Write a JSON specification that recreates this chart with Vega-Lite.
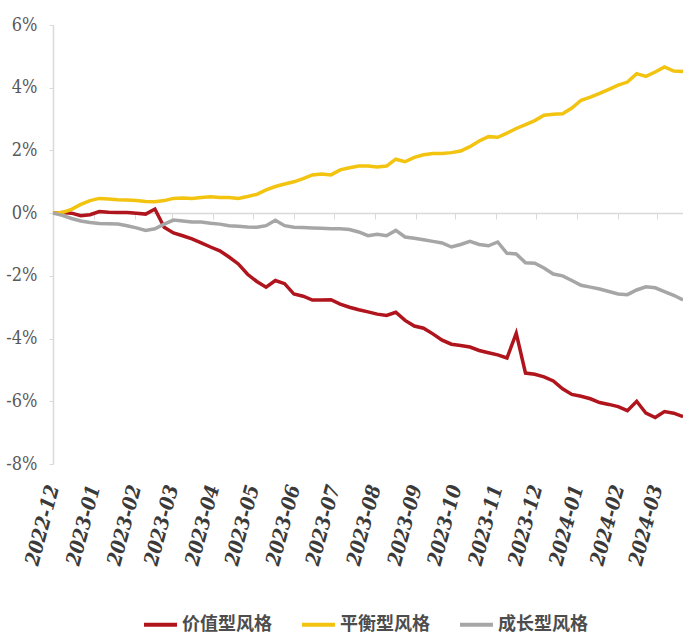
{
  "$schema": "https://vega.github.io/schema/vega-lite/v6.json",
  "width": 630,
  "height": 439,
  "autosize": "none",
  "padding": {"left": 53, "top": 25, "right": 0, "bottom": 170},
  "background": "white",
  "config": {"view": {"stroke": null}},
  "data": {"values": [
    {"date": "2022-12-01", "价值型风格": 0, "平衡型风格": 0, "成长型风格": 0},
    {"date": "2022-12-08", "价值型风格": 0.02, "平衡型风格": 0.02, "成长型风格": -0.07},
    {"date": "2022-12-15", "价值型风格": 0.0, "平衡型风格": 0.12, "成长型风格": -0.17},
    {"date": "2022-12-22", "价值型风格": -0.08, "平衡型风格": 0.28, "成长型风格": -0.25},
    {"date": "2022-12-29", "价值型风格": -0.05, "平衡型风格": 0.4, "成长型风格": -0.3},
    {"date": "2023-01-05", "价值型风格": 0.05, "平衡型风格": 0.47, "成长型风格": -0.33},
    {"date": "2023-01-12", "价值型风格": 0.03, "平衡型风格": 0.45, "成长型风格": -0.34},
    {"date": "2023-01-19", "价值型风格": 0.02, "平衡型风格": 0.43, "成长型风格": -0.35},
    {"date": "2023-01-26", "价值型风格": 0.02, "平衡型风格": 0.42, "成长型风格": -0.4},
    {"date": "2023-02-02", "价值型风格": 0.0, "平衡型风格": 0.4, "成长型风格": -0.47},
    {"date": "2023-02-09", "价值型风格": -0.03, "平衡型风格": 0.37, "成长型风格": -0.55},
    {"date": "2023-02-16", "价值型风格": 0.13, "平衡型风格": 0.36, "成长型风格": -0.5},
    {"date": "2023-02-23", "价值型风格": -0.45, "平衡型风格": 0.4, "成长型风格": -0.35},
    {"date": "2023-03-02", "价值型风格": -0.63, "平衡型风格": 0.47, "成长型风格": -0.22},
    {"date": "2023-03-09", "价值型风格": -0.72, "平衡型风格": 0.48, "成长型风格": -0.25},
    {"date": "2023-03-16", "价值型风格": -0.82, "平衡型风格": 0.47, "成长型风格": -0.28},
    {"date": "2023-03-23", "价值型风格": -0.95, "平衡型风格": 0.5, "成长型风格": -0.28},
    {"date": "2023-03-30", "价值型风格": -1.08, "平衡型风格": 0.52, "成长型风格": -0.32},
    {"date": "2023-04-06", "价值型风格": -1.2, "平衡型风格": 0.5, "成长型风格": -0.35},
    {"date": "2023-04-13", "价值型风格": -1.4, "平衡型风格": 0.5, "成长型风格": -0.4},
    {"date": "2023-04-20", "价值型风格": -1.62, "平衡型风格": 0.47, "成长型风格": -0.42},
    {"date": "2023-04-27", "价值型风格": -1.95, "平衡型风格": 0.53, "成长型风格": -0.44},
    {"date": "2023-05-04", "价值型风格": -2.18, "平衡型风格": 0.6, "成长型风格": -0.45},
    {"date": "2023-05-11", "价值型风格": -2.36, "平衡型风格": 0.74, "成长型风格": -0.4},
    {"date": "2023-05-18", "价值型风格": -2.15, "平衡型风格": 0.85, "成长型风格": -0.23},
    {"date": "2023-05-25", "价值型风格": -2.25, "平衡型风格": 0.93, "成长型风格": -0.4},
    {"date": "2023-06-01", "价值型风格": -2.58, "平衡型风格": 1.0, "成长型风格": -0.45},
    {"date": "2023-06-08", "价值型风格": -2.65, "平衡型风格": 1.1, "成长型风格": -0.46},
    {"date": "2023-06-15", "价值型风格": -2.77, "平衡型风格": 1.22, "成长型风格": -0.47},
    {"date": "2023-06-22", "价值型风格": -2.77, "平衡型风格": 1.25, "成长型风格": -0.48},
    {"date": "2023-06-29", "价值型风格": -2.76, "平衡型风格": 1.22, "成长型风格": -0.5},
    {"date": "2023-07-06", "价值型风格": -2.9, "平衡型风格": 1.38, "成长型风格": -0.5},
    {"date": "2023-07-13", "价值型风格": -3.0, "平衡型风格": 1.45, "成长型风格": -0.52},
    {"date": "2023-07-20", "价值型风格": -3.08, "平衡型风格": 1.5, "成长型风格": -0.6},
    {"date": "2023-07-27", "价值型风格": -3.15, "平衡型风格": 1.5, "成长型风格": -0.72},
    {"date": "2023-08-03", "价值型风格": -3.22, "平衡型风格": 1.47, "成长型风格": -0.67},
    {"date": "2023-08-10", "价值型风格": -3.26, "平衡型风格": 1.5, "成长型风格": -0.72},
    {"date": "2023-08-17", "价值型风格": -3.16, "平衡型风格": 1.72, "成长型风格": -0.55},
    {"date": "2023-08-24", "价值型风格": -3.42, "平衡型风格": 1.64, "成长型风格": -0.76},
    {"date": "2023-08-31", "价值型风格": -3.6, "平衡型风格": 1.78, "成长型风格": -0.8},
    {"date": "2023-09-07", "价值型风格": -3.67, "平衡型风格": 1.86, "成长型风格": -0.85},
    {"date": "2023-09-14", "价值型风格": -3.85, "平衡型风格": 1.9, "成长型风格": -0.9},
    {"date": "2023-09-21", "价值型风格": -4.05, "平衡型风格": 1.9, "成长型风格": -0.95},
    {"date": "2023-09-28", "价值型风格": -4.18, "平衡型风格": 1.93, "成长型风格": -1.08},
    {"date": "2023-10-05", "价值型风格": -4.22, "平衡型风格": 1.98, "成长型风格": -1.0},
    {"date": "2023-10-12", "价值型风格": -4.27, "平衡型风格": 2.12, "成长型风格": -0.9},
    {"date": "2023-10-19", "价值型风格": -4.38, "平衡型风格": 2.3, "成长型风格": -1.0},
    {"date": "2023-10-26", "价值型风格": -4.45, "平衡型风格": 2.44, "成长型风格": -1.04},
    {"date": "2023-11-02", "价值型风格": -4.52, "平衡型风格": 2.42, "成长型风格": -0.92},
    {"date": "2023-11-09", "价值型风格": -4.62, "平衡型风格": 2.55, "成长型风格": -1.28},
    {"date": "2023-11-16", "价值型风格": -3.83, "平衡型风格": 2.7, "成长型风格": -1.3},
    {"date": "2023-11-23", "价值型风格": -5.1, "平衡型风格": 2.82, "成长型风格": -1.58},
    {"date": "2023-11-30", "价值型风格": -5.14, "平衡型风格": 2.95, "成长型风格": -1.6},
    {"date": "2023-12-07", "价值型风格": -5.22, "平衡型风格": 3.12, "成长型风格": -1.75},
    {"date": "2023-12-14", "价值型风格": -5.35, "平衡型风格": 3.15, "成长型风格": -1.94},
    {"date": "2023-12-21", "价值型风格": -5.6, "平衡型风格": 3.17, "成长型风格": -2.0},
    {"date": "2023-12-28", "价值型风格": -5.78, "平衡型风格": 3.35, "成长型风格": -2.15},
    {"date": "2024-01-04", "价值型风格": -5.84, "平衡型风格": 3.6, "成长型风格": -2.3},
    {"date": "2024-01-11", "价值型风格": -5.92, "平衡型风格": 3.7, "成长型风格": -2.36},
    {"date": "2024-01-18", "价值型风格": -6.04, "平衡型风格": 3.82, "成长型风格": -2.42},
    {"date": "2024-01-25", "价值型风格": -6.1, "平衡型风格": 3.95, "成长型风格": -2.5},
    {"date": "2024-02-01", "价值型风格": -6.17, "平衡型风格": 4.08, "成长型风格": -2.58},
    {"date": "2024-02-08", "价值型风格": -6.3, "平衡型风格": 4.18, "成长型风格": -2.6},
    {"date": "2024-02-15", "价值型风格": -6.0, "平衡型风格": 4.45, "成长型风格": -2.45},
    {"date": "2024-02-22", "价值型风格": -6.38, "平衡型风格": 4.36, "成长型风格": -2.35},
    {"date": "2024-02-29", "价值型风格": -6.52, "平衡型风格": 4.5, "成长型风格": -2.38},
    {"date": "2024-03-07", "价值型风格": -6.33, "平衡型风格": 4.66, "成长型风格": -2.5},
    {"date": "2024-03-14", "价值型风格": -6.38, "平衡型风格": 4.53, "成长型风格": -2.62},
    {"date": "2024-03-21", "价值型风格": -6.49, "平衡型风格": 4.52, "成长型风格": -2.77}
  ]},
  "transform": [
    {"fold": ["价值型风格", "平衡型风格", "成长型风格"], "as": ["style", "value"]}
  ],
  "mark": {"type": "line", "strokeWidth": 3.5, "interpolate": "linear"},
  "encoding": {
    "x": {
      "field": "date",
      "type": "temporal",
      "scale": {"type": "utc", "nice": false},
      "axis": {
        "title": null,
        "orient": "bottom",
        "offset": -251,
        "format": "%Y-%m",
        "tickCount": {"interval": "month", "step": 1},
        "grid": false,
        "domain": true,
        "domainColor": "#d9d9d9",
        "domainWidth": 1.5,
        "ticks": true,
        "tickColor": "#d9d9d9",
        "tickSize": 6,
        "tickWidth": 1,
        "labelPadding": 266,
        "labelAngle": -75,
        "labelFont": "DejaVu Serif Condensed, Liberation Serif, DejaVu Serif, serif",
        "labelFontSize": 20,
        "labelFontWeight": "bold",
        "labelFontStyle": "italic",
        "labelColor": "#3a3a3a",
        "labelOverlap": false,
        "labelFlush": false,
        "labelBound": false
      }
    },
    "y": {
      "field": "value",
      "type": "quantitative",
      "scale": {"domain": [-8, 6], "nice": false, "zero": false},
      "axis": {
        "title": null,
        "values": [-8, -6, -4, -2, 0, 2, 4, 6],
        "labelExpr": "datum.value + '%'",
        "grid": false,
        "domainColor": "#d9d9d9",
        "domainWidth": 1.5,
        "tickColor": "#d9d9d9",
        "tickSize": 4,
        "labelPadding": 12,
        "labelFont": "DejaVu Serif Condensed, DejaVu Serif, serif",
        "labelFontSize": 18,
        "labelColor": "#595959"
      }
    },
    "color": {
      "field": "style",
      "type": "nominal",
      "scale": {
        "domain": ["价值型风格", "平衡型风格", "成长型风格"],
        "range": ["#B0141C", "#F2C30F", "#A6A6A6"]
      },
      "legend": {
        "title": null,
        "orient": "none",
        "direction": "horizontal",
        "legendX": 89,
        "legendY": 581,
        "symbolType": "stroke",
        "symbolSize": 1089,
        "symbolStrokeWidth": 4,
        "labelFont": "Noto Sans CJK SC",
        "labelFontSize": 18,
        "labelFontWeight": "bold",
        "labelColor": "#4d4d4d",
        "labelOffset": 3,
        "columnPadding": 22
      }
    },
    "order": {"field": "date", "type": "temporal"}
  }
}
